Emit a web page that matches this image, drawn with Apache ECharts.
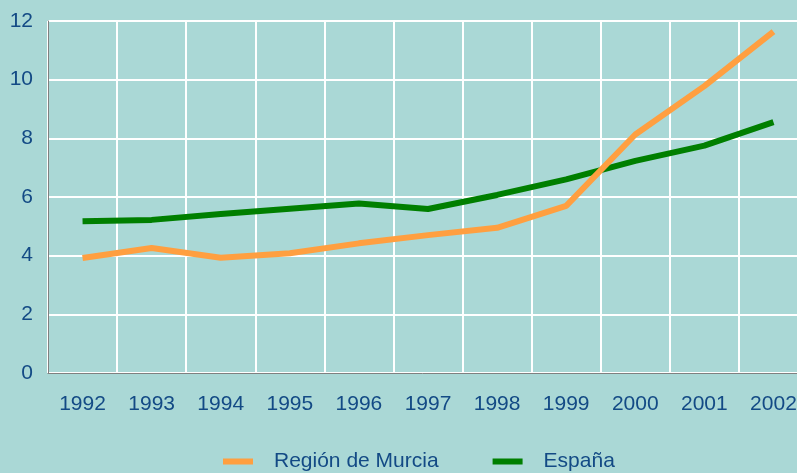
<!DOCTYPE html>
<html>
<head>
<meta charset="utf-8">
<script src="https://cdn.jsdelivr.net/npm/echarts@6/dist/echarts.min.js"></script>
<style>
    html, body {margin: 0; padding: 0; background: #aad8d6;}
    #chart {width: 797px; height: 473px;}
</style>
</head>
<body>
<div id="chart"></div>
<script>
const years = ["1992", "1993", "1994", "1995", "1996", "1997", "1998", "1999", "2000", "2001", "2002"];
const murcia = [3.92, 4.26, 3.93, 4.08, 4.42, 4.70, 4.95, 5.70, 8.13, 9.78, 11.64];
const espana = [5.17, 5.22, 5.42, 5.60, 5.78, 5.59, 6.07, 6.60, 7.23, 7.75, 8.55];
const yTicks = [0, 2, 4, 6, 8, 10, 12];

const textColor = "#134a85";
const font = "'Liberation Sans', Arial, sans-serif";

const chart = echarts.init(document.getElementById("chart"), null, {renderer: "canvas"});

chart.setOption({
    backgroundColor: "#aad8d6",
    animation: false,
    // plot runs past the right edge, like the original
    grid: {left: 48, width: 760, top: 21, bottom: 100, outerBoundsMode: "none"},
    legend: {
        left: 218,
        top: 446,
        icon: "rect",
        itemWidth: 30,
        itemHeight: 6,
        itemGap: 54,
        data: ["Región de Murcia", "España"],
        textStyle: {color: textColor, fontSize: 21, fontFamily: font, padding: [0, 0, 0, 16]},
    },
    xAxis: {
        type: "category",
        data: years,
        boundaryGap: true,
        axisLine: {show: true, lineStyle: {color: "#808080", width: 1}},
        axisTick: {show: false},
        axisLabel: {color: textColor, fontSize: 21, fontFamily: font, margin: 21},
        splitLine: {show: true, lineStyle: {color: "#ffffff", width: 2}},
    },
    yAxis: {
        type: "value",
        min: yTicks[0],
        max: yTicks[yTicks.length - 1],
        interval: 2,
        axisLine: {show: true, lineStyle: {color: "#808080", width: 1}},
        axisTick: {show: false},
        axisLabel: {color: textColor, fontSize: 21, fontFamily: font, margin: 15},
        splitLine: {show: true, lineStyle: {color: "#ffffff", width: 2}},
    },
    series: [
        {
            name: "Región de Murcia",
            type: "line",
            data: murcia,
            z: 3,
            symbol: "none",
            color: "#ff9f40",
            lineStyle: {color: "#ff9f40", width: 6, cap: "butt"},
        },
        {
            name: "España",
            type: "line",
            data: espana,
            z: 2,
            symbol: "none",
            color: "#007f00",
            lineStyle: {color: "#007f00", width: 6, cap: "butt"},
        },
    ],
});
</script>
</body>
</html>
